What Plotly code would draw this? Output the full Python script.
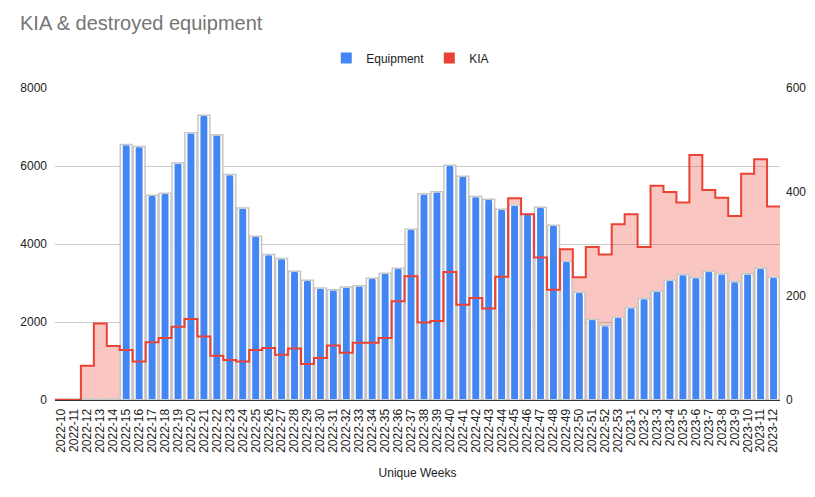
import numpy as np
import plotly.graph_objects as go

weeks = ["2022-10", "2022-11", "2022-12", "2022-13", "2022-14", "2022-15", "2022-16", "2022-17",
         "2022-18", "2022-19", "2022-20", "2022-21", "2022-22", "2022-23", "2022-24", "2022-25",
         "2022-26", "2022-27", "2022-28", "2022-29", "2022-30", "2022-31", "2022-32", "2022-33",
         "2022-34", "2022-35", "2022-36", "2022-37", "2022-38", "2022-39", "2022-40", "2022-41",
         "2022-42", "2022-43", "2022-44", "2022-45", "2022-46", "2022-47", "2022-48", "2022-49",
         "2022-50", "2022-51", "2022-52", "2022-53", "2023-1", "2023-2", "2023-3", "2023-4",
         "2023-5", "2023-6", "2023-7", "2023-8", "2023-9", "2023-10", "2023-11", "2023-12"]

equipment = [25, 25, 25, 25, 25, 6550, 6500, 5250,
             5300, 6080, 6850, 7300, 6800, 5780, 4920, 4200,
             3730, 3630, 3300, 3070, 2870, 2830, 2900, 2930,
             3120, 3250, 3380, 4380, 5290, 5340, 6020, 5740,
             5220, 5150, 4890, 5000, 4760, 4940, 4480, 3560,
             2760, 2070, 1910, 2120, 2370, 2600, 2790, 3070,
             3220, 3140, 3300, 3240, 3040, 3240, 3380, 3150]

kia = [0, 0, 66, 147, 104, 96, 74, 111,
       119, 141, 156, 122, 85, 77, 74, 96,
       100, 87, 99, 69, 81, 105, 91, 110,
       110, 119, 190, 238, 149, 152, 246, 183,
       196, 176, 237, 388, 357, 274, 212, 290,
       236, 294, 280, 338, 357, 294, 412, 400,
       380, 471, 404, 389, 354, 435, 463, 372]

left_ticks = [0, 2000, 4000, 6000, 8000]
right_ticks = [0, 200, 400, 600]

n = len(weeks)
xpos = np.arange(n)
step_x = np.append(xpos - 0.5, n - 0.5)
step_y = kia + [kia[-1]]

BLUE = "#4285F4"
RED = "#EA4335"
FONT = "Liberation Sans, Arial, sans-serif"
TXT = "#222222"

fig = go.Figure()

# KIA fill (under bars)
fig.add_trace(go.Scatter(x=step_x, y=step_y, mode="lines", line=dict(width=0, shape="hv", color=RED),
                         fill="tozeroy", fillcolor="rgba(234,67,53,0.3)", yaxis="y",
                         showlegend=False, hoverinfo="skip"))

# Equipment bars
fig.add_trace(go.Bar(x=xpos, y=equipment, width=0.65, yaxis="y2", name="Equipment",
                     marker=dict(color=BLUE, line=dict(color="white", width=1.5), cornerradius=2),
                     showlegend=False))
fig.add_trace(go.Bar(x=xpos, y=equipment, width=0.92, yaxis="y2",
                     marker=dict(color="rgba(0,0,0,0)", line=dict(color="#c6c6c6", width=1.5)),
                     showlegend=False, hoverinfo="skip"))

# KIA line (over bars)
fig.add_trace(go.Scatter(x=step_x, y=step_y, mode="lines", line=dict(width=2, shape="hv", color=RED),
                         yaxis="y3", showlegend=False, name="KIA"))

# legend entries
fig.add_trace(go.Scatter(x=[None], y=[None], mode="markers", name="Equipment", yaxis="y2",
                         marker=dict(symbol="square", size=11, color=BLUE)))
fig.add_trace(go.Scatter(x=[None], y=[None], mode="markers", name="KIA", yaxis="y2",
                         marker=dict(symbol="square", size=11, color=RED)))

W, H = 799, 481
fig.update_layout(
    width=W, height=H,
    margin=dict(l=47, r=27, t=80, b=89, autoexpand=False),
    paper_bgcolor="white", plot_bgcolor="white",
    barmode="overlay",
    font=dict(family=FONT, size=12, color=TXT),
    title=dict(text="KIA & destroyed equipment", x=12 / W, xref="container", xanchor="left",
               y=1 - 15 / H, yref="container", yanchor="middle",
               font=dict(family=FONT, size=20, color="#757575")),
    legend=dict(orientation="h", x=0.49, xanchor="center", y=1.096, yanchor="middle",
                font=dict(family=FONT, size=12, color=TXT), itemwidth=30,
                bgcolor="rgba(0,0,0,0)"),
    xaxis=dict(range=[-0.5, n - 0.5], tickmode="array", tickvals=xpos, ticktext=weeks,
               tickangle=-90, showgrid=False, zeroline=False, showline=True, automargin=False,
               linecolor="#333333", linewidth=1, ticks="", ticklabelstandoff=3,
               tickfont=dict(family=FONT, size=12, color=TXT),
               title=dict(text="Unique Weeks", standoff=16,
                          font=dict(family=FONT, size=12, color=TXT))),
    yaxis=dict(range=[0, 600], side="right", showgrid=False, zeroline=False, automargin=False,
               tickmode="array", tickvals=right_ticks, ticks="", ticklabelstandoff=5,
               tickfont=dict(family=FONT, size=12, color=TXT)),
    yaxis2=dict(range=[0, 8000], overlaying="y", side="left", showgrid=True, automargin=False,
                gridcolor="#cccccc", gridwidth=1, zeroline=False,
                tickmode="array", tickvals=left_ticks, ticks="", ticklabelstandoff=7,
                tickfont=dict(family=FONT, size=12, color=TXT)),
    yaxis3=dict(range=[0, 600], overlaying="y", side="right", showgrid=False, automargin=False,
                zeroline=False, showticklabels=False, visible=False),
)

fig.write_html("out.html")
